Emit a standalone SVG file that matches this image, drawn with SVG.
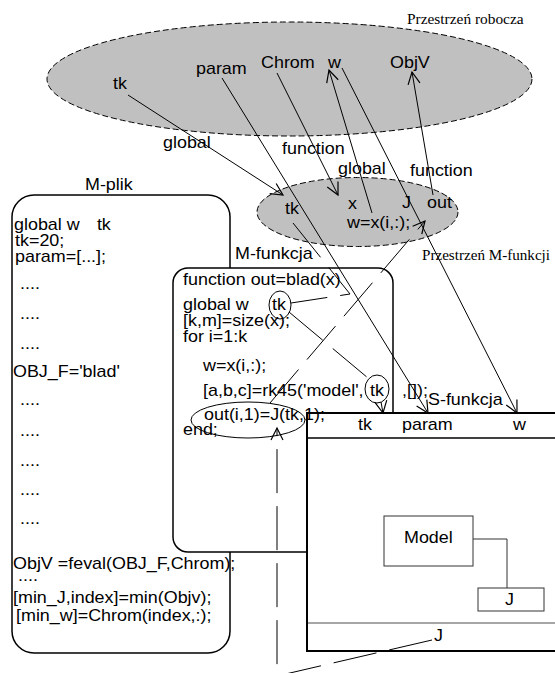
<svg xmlns="http://www.w3.org/2000/svg" width="555" height="673" viewBox="0 0 555 673">
<defs>
<marker id="arr" markerUnits="userSpaceOnUse" markerWidth="12" markerHeight="12" refX="10" refY="5" orient="auto" viewBox="0 0 10 10" overflow="visible">
<path d="M0,0 L10,5 L0,10" fill="none" stroke="#000" stroke-width="1"/>
</marker>
</defs>
<style>
text{font-family:"Liberation Sans",Arial,sans-serif;font-size:16px;fill:#000}
text.s{font-family:"Liberation Serif","Times New Roman",serif;font-size:14px}
.space{fill:#c0c0c0;stroke:#000;stroke-width:1;stroke-dasharray:6 3}
.box{fill:#fff;stroke:#000;stroke-width:1.5}
.ln{fill:none;stroke:#000;stroke-width:1}
.dl{fill:none;stroke:#000;stroke-width:1;stroke-dasharray:44 13}
.ring{fill:none;stroke:#000;stroke-width:1}
</style>
<rect width="555" height="673" fill="#fff"/>

<g id="workspace">
<ellipse class="space" cx="289.5" cy="79" rx="242.5" ry="57"/>
<text class="s" transform="translate(407 24) scale(1.1 1)">Przestrzeń robocza</text>
<text transform="translate(113 89) scale(1.12 1)">tk</text>
<text transform="translate(196 74) scale(1.12 1)">param</text>
<text transform="translate(261 68) scale(1.12 1)">Chrom</text>
<text transform="translate(328 68) scale(1.12 1)">w</text>
<text transform="translate(390 68) scale(1.12 1)">ObjV</text>
</g>

<g id="mfunc-space">
<ellipse class="space" cx="357.5" cy="212" rx="100.5" ry="34.5"/>
<text transform="translate(285 214) scale(1.12 1)">tk</text>
<text transform="translate(348 209) scale(1.12 1)">x</text>
<text transform="translate(402 208) scale(1.12 1)">J</text>
<text transform="translate(427 208) scale(1.12 1)">out</text>
<text transform="translate(347 228) scale(1.12 1)">w=x(i,:);</text>
<text class="s" transform="translate(422 260) scale(1.08 1)">Przestrzeń M-funkcji</text>
</g>

<g id="labels">
<text transform="translate(163 148) scale(1.12 1)">global</text>
<text transform="translate(282 154) scale(1.12 1)">function</text>
<text transform="translate(338 174) scale(1.12 1)">global</text>
<text transform="translate(410 176) scale(1.12 1)">function</text>
</g>

<g id="m-plik">
<rect class="box" x="12" y="195" width="218" height="458" rx="22" ry="22"/>
<text transform="translate(85 190) scale(1.12 1)">M-plik</text>
</g>

<g id="m-funkcja">
<rect class="box" x="173" y="268" width="220" height="284" rx="15" ry="15"/>
<text transform="translate(235 259) scale(1.12 1)">M-funkcja</text>
</g>

<g id="s-funkcja">
<rect x="307" y="413" width="260" height="238" fill="#fff" stroke="#000" stroke-width="2"/>
<line x1="307" y1="438" x2="555" y2="438" stroke="#000" stroke-width="1.5"/>
<line x1="308" y1="623" x2="555" y2="623" stroke="#888" stroke-width="1.5"/>
<text transform="translate(428 405) scale(1.12 1)">S-funkcja</text>
<text transform="translate(358 430) scale(1.12 1)">tk</text>
<text transform="translate(402 430) scale(1.12 1)">param</text>
<text transform="translate(513 430) scale(1.12 1)">w</text>
<text transform="translate(434 641) scale(1.12 1)">J</text>
</g>

<g id="model">
<rect x="384" y="516" width="89" height="50" fill="#fff" stroke="#333" stroke-width="1"/>
<text transform="translate(404 543) scale(1.12 1)">Model</text>
</g>

<g id="j-block">
<rect x="478" y="588" width="66" height="23" fill="#fff" stroke="#333" stroke-width="1"/>
<text transform="translate(505 605) scale(1.12 1)">J</text>
</g>

<g id="m-plik-code">
<text transform="translate(14 230) scale(1.12 1)">global w<tspan x="74">tk</tspan></text>
<text transform="translate(15 246) scale(1.12 1)">tk=20;</text>
<text transform="translate(15 262) scale(1.12 1)">param=[...];</text>
<text transform="translate(20 289) scale(1.12 1)">....</text>
<text transform="translate(20 319) scale(1.12 1)">....</text>
<text transform="translate(20 349) scale(1.12 1)">....</text>
<text transform="translate(13 377) scale(1.12 1)">OBJ_F='blad'</text>
<text transform="translate(20 405) scale(1.12 1)">....</text>
<text transform="translate(20 436) scale(1.12 1)">....</text>
<text transform="translate(20 466) scale(1.12 1)">....</text>
<text transform="translate(20 495) scale(1.12 1)">....</text>
<text transform="translate(20 524) scale(1.12 1)">....</text>
<text transform="translate(13 569) scale(1.12 1)">ObjV =feval(OBJ_F,Chrom);</text>
<text transform="translate(18 581) scale(1.12 1)">....</text>
<text transform="translate(13 603) scale(1.12 1)">[min_J,index]=min(Objv);</text>
<text transform="translate(16 621) scale(1.12 1)">[min_w]=Chrom(index,:);</text>
</g>

<g id="m-funkcja-code">
<text transform="translate(183 285) scale(1.12 1)">function out=blad(x)</text>
<text transform="translate(183 310) scale(1.12 1)">global w</text>
<text transform="translate(272 310) scale(1.12 1)">tk</text>
<ellipse class="ring" cx="280" cy="305" rx="11" ry="14"/>
<text transform="translate(183 326) scale(1.12 1)">[k,m]=size(x);</text>
<text transform="translate(183 342) scale(1.12 1)">for i=1:k</text>
<text transform="translate(203 371) scale(1.12 1)">w=x(i,:);</text>
<text transform="translate(203 396) scale(1.12 1)">[a,b,c]=rk45('model',</text>
<text transform="translate(370 396) scale(1.12 1)">tk</text>
<ellipse class="ring" cx="377" cy="389" rx="12" ry="14"/>
<text transform="translate(402 396) scale(1.12 1)">,[]);</text>
<text transform="translate(204 420) scale(1.12 1)">out(i,1)=J(tk,1);</text>
<ellipse class="ring" cx="248" cy="420" rx="57" ry="18"/>
<text transform="translate(183 435) scale(1.12 1)">end;</text>
</g>

<g id="connectors">
<line class="ln" x1="128" y1="95" x2="283" y2="195" marker-end="url(#arr)"/>
<line class="ln" x1="222" y1="78" x2="428" y2="413" marker-end="url(#arr)"/>
<line class="ln" x1="277" y1="73" x2="338" y2="195" marker-end="url(#arr)"/>
<line class="ln" x1="372" y1="213" x2="329" y2="70" marker-end="url(#arr)"/>
<line class="ln" x1="342" y1="68" x2="517" y2="413" marker-end="url(#arr)"/>
<line class="ln" x1="433" y1="195" x2="412" y2="72" marker-end="url(#arr)"/>
<polyline class="dl" points="293,223 350,294 291,303"/>
<line class="dl" x1="289" y1="312" x2="368" y2="378"/>
<line class="ln" x1="381" y1="402" x2="383" y2="413" marker-end="url(#arr)"/>
<line class="dl" x1="270" y1="403" x2="425" y2="221" marker-end="url(#arr)"/>
<polyline class="dl" points="432,640 277,676 277,428" marker-end="url(#arr)"/>
<polyline fill="none" stroke="#333" stroke-width="1" points="473,539 507,539 507,588"/>
</g>
</svg>
